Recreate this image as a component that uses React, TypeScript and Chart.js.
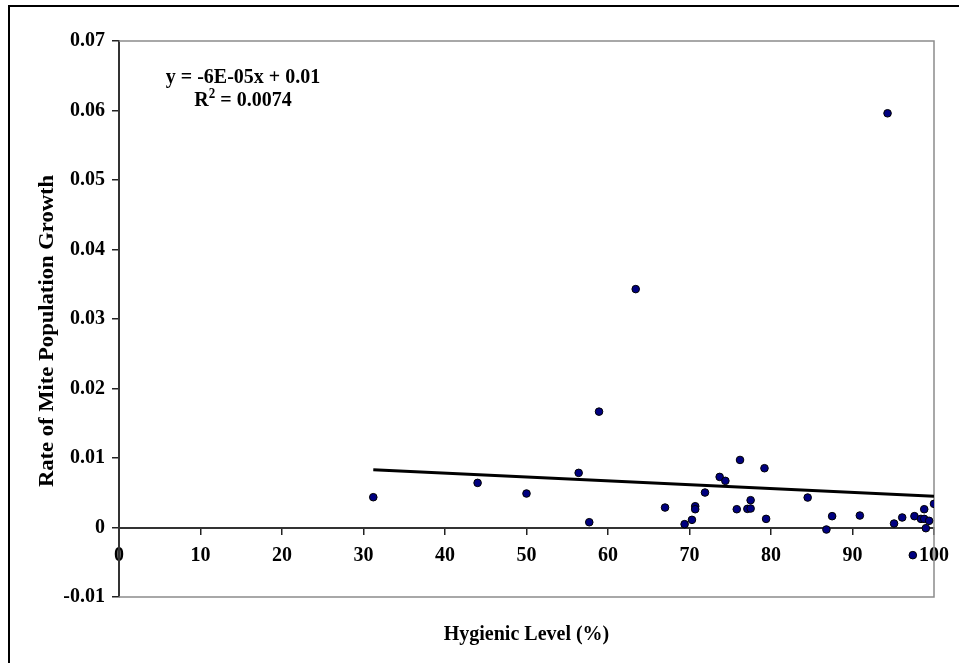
import React, { useEffect, useRef } from "react";
import { Chart, registerables } from "chart.js";

Chart.register(...registerables);

// Hygienic level (%) vs rate of mite population growth
const hygienicLevel: number[] = [
  31.2, 44.0, 50.0, 56.4, 57.7, 58.9, 63.4, 67.0, 69.4, 70.3, 70.7, 70.7, 71.9,
  73.7, 74.4, 75.8, 76.2, 77.1, 77.5, 77.5, 79.2, 79.4, 84.5, 86.8, 87.5, 90.9,
  94.3, 95.1, 96.1, 97.4, 97.6, 98.4, 98.8, 98.8, 99.0, 99.4, 100.0,
];
const growthRate: number[] = [
  0.00436, 0.00642, 0.00489, 0.00786, 0.00076, 0.01667, 0.0343, 0.00287, 0.00048,
  0.0011, 0.00306, 0.00263, 0.00503, 0.00728, 0.00671, 0.00263, 0.00972, 0.00268,
  0.00273, 0.00393, 0.00853, 0.00124, 0.00431, -0.00029, 0.00163, 0.00172,
  0.0596, 0.00057, 0.00144, -0.00398, 0.00163, 0.00124, 0.00263, 0.00124, -0.0001,
  0.00096, 0.0034,
];

// Linear trendline endpoints as drawn
const trendX: number[] = [31.2, 100];
const trendY: number[] = [0.0083, 0.0045];

const xTicks: number[] = [0, 10, 20, 30, 40, 50, 60, 70, 80, 90, 100];
const yTickLabels: string[] = ["-0.01", "0", "0.01", "0.02", "0.03", "0.04", "0.05", "0.06", "0.07"];

const equationText = "y = -6E-05x + 0.01";
const r2Value = "0.0074";
const xTitle = "Hygienic Level (%)";
const yTitle = "Rate of Mite Population Growth";

const FONT_FAMILY = "'Liberation Serif', 'Times New Roman', serif";

const overlayPlugin = {
  id: "overlay",
  beforeDatasetsDraw(chart: any) {
    const { ctx, chartArea } = chart;
    ctx.save();
    ctx.strokeStyle = "#8c8c8c";
    ctx.lineWidth = 1.5;
    ctx.beginPath();
    ctx.moveTo(chartArea.left, chartArea.top);
    ctx.lineTo(chartArea.right, chartArea.top);
    ctx.lineTo(chartArea.right, chartArea.bottom);
    ctx.lineTo(chartArea.left, chartArea.bottom);
    ctx.stroke();
    ctx.restore();
  },
  afterDraw(chart: any) {
    const { ctx, chartArea } = chart;
    const sy = 1.06;
    ctx.save();
    ctx.fillStyle = "#000";
    ctx.textBaseline = "alphabetic";
    // equation line 1
    const cx = 243;
    ctx.save();
    ctx.translate(cx, 83);
    ctx.scale(1, sy);
    ctx.font = `bold 20px ${FONT_FAMILY}`;
    ctx.textAlign = "center";
    ctx.fillText(equationText, 0, 0);
    ctx.restore();
    // equation line 2 with superscript
    ctx.save();
    ctx.translate(cx, 106);
    ctx.scale(1, sy);
    ctx.font = `bold 20px ${FONT_FAMILY}`;
    const part1 = "R";
    const part3 = " = " + r2Value;
    const w1 = ctx.measureText(part1).width;
    const w3 = ctx.measureText(part3).width;
    ctx.font = `bold 13px ${FONT_FAMILY}`;
    const w2 = ctx.measureText("2").width;
    const x0 = -(w1 + w2 + w3) / 2;
    ctx.textAlign = "left";
    ctx.font = `bold 20px ${FONT_FAMILY}`;
    ctx.fillText(part1, x0, 0);
    ctx.font = `bold 13px ${FONT_FAMILY}`;
    ctx.fillText("2", x0 + w1, -8);
    ctx.font = `bold 20px ${FONT_FAMILY}`;
    ctx.fillText(part3, x0 + w1 + w2, 0);
    ctx.restore();

    // x title
    ctx.save();
    ctx.translate((chartArea.left + chartArea.right) / 2, 640);
    ctx.scale(1, sy);
    ctx.font = `bold 20px ${FONT_FAMILY}`;
    ctx.textAlign = "center";
    ctx.fillText(xTitle, 0, 0);
    ctx.restore();

    // y title (stretched along its length, as in the reference)
    ctx.save();
    ctx.translate(53, 331);
    ctx.rotate(-Math.PI / 2);
    ctx.scale(1.13, 1);
    ctx.font = `bold 20px ${FONT_FAMILY}`;
    ctx.textAlign = "center";
    ctx.fillText(yTitle, 0, 0);
    ctx.restore();
    ctx.restore();
  },
};

export default function App() {
  const canvasRef = useRef<HTMLCanvasElement | null>(null);

  useEffect(() => {
    const canvas = canvasRef.current;
    if (!canvas) return;
    const points = hygienicLevel.map((x, i) => ({ x, y: growthRate[i] }));
    const trend = trendX.map((x, i) => ({ x, y: trendY[i] }));
    const chart = new Chart(canvas, {
      type: "scatter",
      data: {
        datasets: [
          {
            type: "line",
            label: "Linear trend",
            data: trend,
            borderColor: "#000",
            borderWidth: 3,
            pointRadius: 0,
            fill: false,
            showLine: true,
          } as any,
          {
            label: "Rate",
            data: points,
            backgroundColor: "#000080",
            borderColor: "#000",
            borderWidth: 1,
            pointRadius: 3.8,
            pointHoverRadius: 3.8,
          },
        ],
      },
      options: {
        responsive: false,
        animation: false,
        devicePixelRatio: 1,
        layout: { padding: { top: 41, right: 22, bottom: 66, left: 0 } },
        plugins: {
          legend: { display: false },
          tooltip: { enabled: false },
        },
        scales: {
          x: {
            type: "linear",
            min: 0,
            max: 100,
            position: { y: 0 } as any,
            afterBuildTicks: (scale: any) => {
              scale.ticks = xTicks.map((v) => ({ value: v }));
            },
            ticks: {
              color: "#000",
              padding: 10,
              maxRotation: 0,
              autoSkip: false,
              font: { family: FONT_FAMILY, size: 20, weight: "bold" },
              callback: (v: any) => String(v),
            },
            grid: {
              drawOnChartArea: false,
              drawTicks: true,
              tickLength: 6,
              color: "#222",
              lineWidth: 1.5,
            },
            border: { display: true, color: "#333", width: 2 },
          },
          y: {
            type: "linear",
            min: -0.01,
            max: 0.07,
            position: "left",
            afterBuildTicks: (scale: any) => {
              scale.ticks = yTickLabels.map((s) => ({ value: parseFloat(s) }));
            },
            afterFit: (scale: any) => {
              scale.width = 119;
            },
            ticks: {
              color: "#000",
              padding: 7,
              autoSkip: false,
              font: { family: FONT_FAMILY, size: 20, weight: "bold" },
              callback: (v: any) => {
                const idx = yTickLabels.findIndex((s) => Math.abs(parseFloat(s) - Number(v)) < 1e-9);
                return idx >= 0 ? yTickLabels[idx] : String(v);
              },
            },
            grid: {
              drawOnChartArea: false,
              drawTicks: true,
              tickLength: 7,
              color: "#222",
              lineWidth: 1.5,
            },
            border: { display: true, color: "#333", width: 2 },
          },
        },
      },
      plugins: [overlayPlugin],
    });
    return () => chart.destroy();
  }, []);

  return (
    <div
      style={{
        position: "fixed",
        left: 0,
        top: 0,
        width: 959,
        height: 663,
        overflow: "hidden",
        background: "#fff",
      }}
    >
      <div
        style={{
          position: "absolute",
          left: 8,
          top: 5,
          width: 1000,
          height: 700,
          border: "2px solid #000",
          boxSizing: "border-box",
        }}
      />
      <canvas
        ref={canvasRef}
        width={959}
        height={663}
        style={{ position: "absolute", left: 0, top: 0, width: 959, height: 663 }}
      />
    </div>
  );
}
